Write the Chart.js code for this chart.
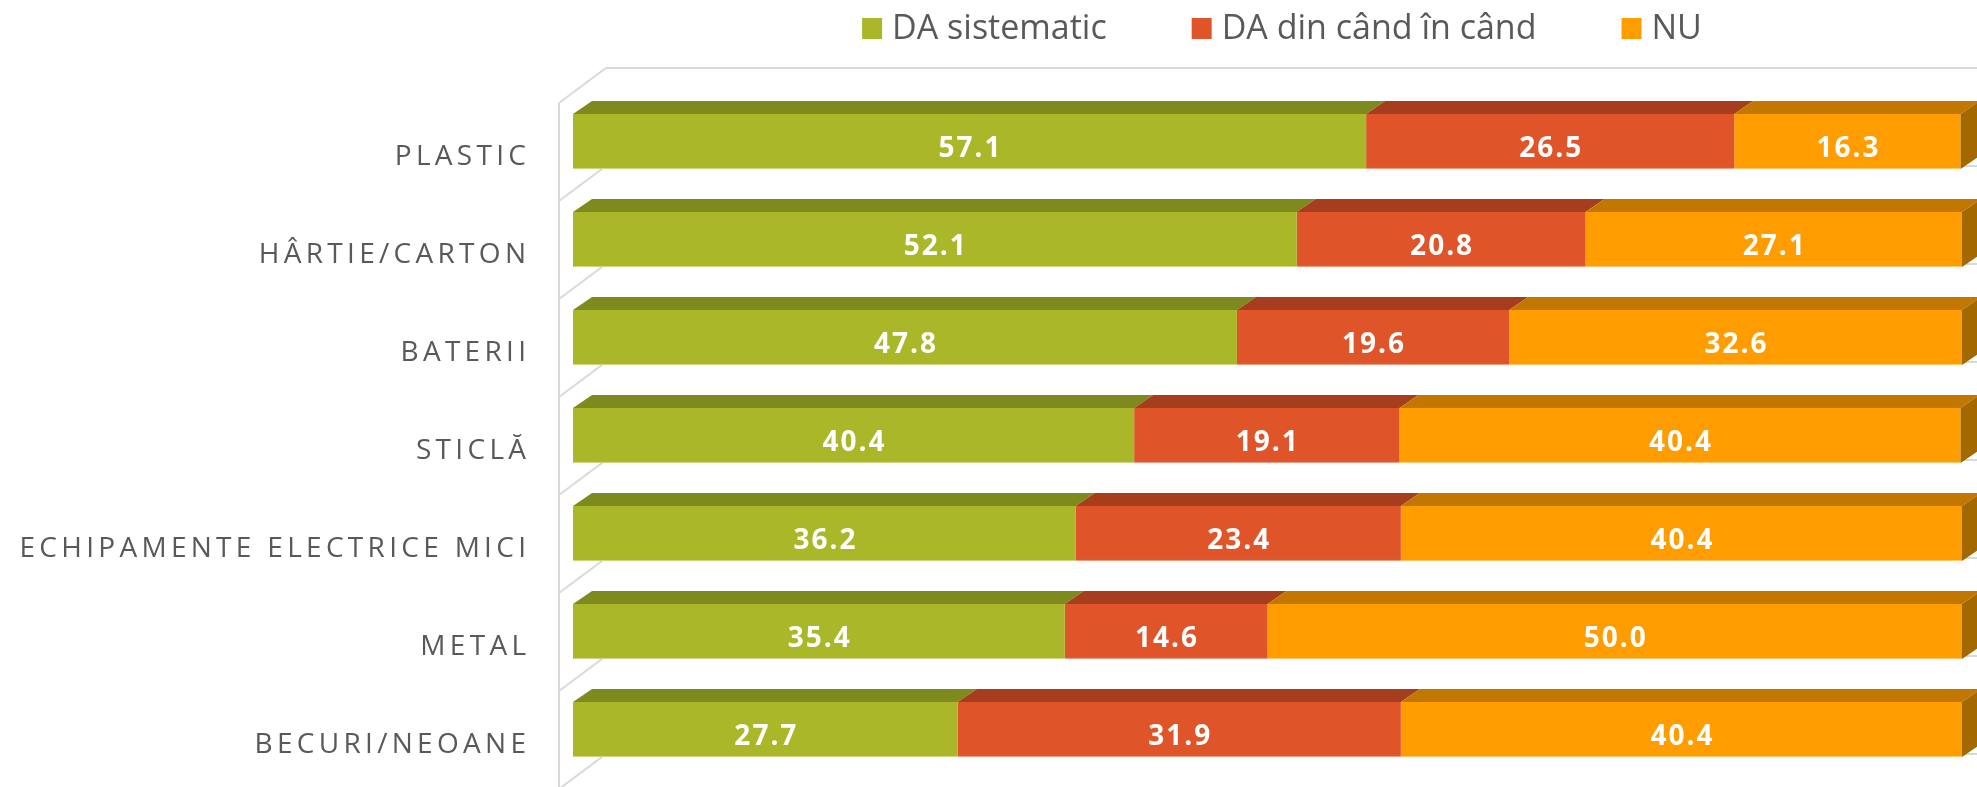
<!DOCTYPE html>
<html>
<head>
<meta charset="utf-8">
<script src="https://cdn.jsdelivr.net/npm/chart.js@4.4.0/dist/chart.umd.min.js"></script>
<style>
    html, body { margin: 0; padding: 0; background: #ffffff; }
    canvas { display: block; }
</style>
</head>
<body>
<canvas id="grafic" width="1977" height="787"></canvas>
<script>
const categorii = ["PLASTIC", "HÂRTIE/CARTON", "BATERII", "STICLĂ", "ECHIPAMENTE ELECTRICE MICI", "METAL", "BECURI/NEOANE"];
const serii = ["DA sistematic", "DA din când în când", "NU"];
const daSistematic = [57.1, 52.1, 47.8, 40.4, 36.2, 35.4, 27.7];
const daDinCand = [26.5, 20.8, 19.6, 19.1, 23.4, 14.6, 31.9];
const nu = [16.3, 27.1, 32.6, 40.4, 40.4, 50.0, 40.4];

// culori: fata, capacul de sus, lateral
const culori = [
    { fata: "#a9b728", sus: "#7f8a1e", lateral: "#6a7318" },
    { fata: "#e05429", sus: "#a63e1e", lateral: "#8c3419" },
    { fata: "#ff9c00", sus: "#c27700", lateral: "#a46800" }
];

const gri = "#595959";

// efectul 3D (capac, lateral, pereti) + etichete
const efect3d = {
    id: "efect3d",
    beforeDatasetsDraw(chart) {
        const ctx = chart.ctx;
        const a = chart.chartArea;
        const n = chart.data.labels.length;
        const pas = (a.bottom - a.top) / n;
        const fx = a.left - 14, fy = 10.5;
        const bx = a.left + 33, by = -24.5;
        ctx.save();
        ctx.strokeStyle = "#d9d9d9";
        ctx.lineWidth = 2;
        ctx.beginPath();
        ctx.moveTo(fx, a.top + fy);
        ctx.lineTo(fx, chart.height);
        for (let k = 0; k <= n; k++) {
            const yb = a.top + k * pas;
            ctx.moveTo(fx, yb + fy);
            ctx.lineTo(bx, yb + by);
            ctx.lineTo(chart.width, yb + by);
        }
        ctx.stroke();
        ctx.restore();
    },
    afterDatasetsDraw(chart) {
        const ctx = chart.ctx;
        const dx = 19, dy = 13;
        const ultim = chart.data.datasets.length - 1;
        ctx.save();
        chart.data.datasets.forEach((ds, i) => {
            chart.getDatasetMeta(i).data.forEach((bar) => {
                const p = bar.getProps(["x", "y", "base", "height"], true);
                const sus = p.y - p.height / 2;
                const jos = p.y + p.height / 2;
                ctx.fillStyle = culori[i].sus;
                ctx.beginPath();
                ctx.moveTo(p.base, sus);
                ctx.lineTo(p.x, sus);
                ctx.lineTo(p.x + dx, sus - dy);
                ctx.lineTo(p.base + dx, sus - dy);
                ctx.closePath();
                ctx.fill();
                if (i === ultim) {
                    ctx.fillStyle = culori[i].lateral;
                    ctx.beginPath();
                    ctx.moveTo(p.x, sus);
                    ctx.lineTo(p.x + dx, sus - dy);
                    ctx.lineTo(p.x + dx, jos - dy);
                    ctx.lineTo(p.x, jos);
                    ctx.closePath();
                    ctx.fill();
                }
                // linie deschisa jos
                ctx.strokeStyle = "rgba(255,255,255,0.45)";
                ctx.lineWidth = 1;
                ctx.beginPath();
                ctx.moveTo(p.base, jos - 0.5);
                ctx.lineTo(p.x, jos - 0.5);
                ctx.stroke();
            });
        });

        // valorile
        ctx.fillStyle = "#ffffff";
        ctx.font = "bold 28px 'Open Sans'";
        ctx.letterSpacing = "2px";
        ctx.textAlign = "center";
        ctx.textBaseline = "alphabetic";
        chart.data.datasets.forEach((ds, i) => {
            chart.getDatasetMeta(i).data.forEach((bar, j) => {
                const p = bar.getProps(["x", "y", "base"], true);
                ctx.fillText(ds.data[j].toFixed(1), (p.base + p.x) / 2 + 1, p.y + 15);
            });
        });

        // categoriile
        const y = chart.scales.y;
        ctx.fillStyle = gri;
        ctx.font = "28px 'Open Sans'";
        ctx.letterSpacing = "4.3px";
        ctx.textAlign = "right";
        chart.data.labels.forEach((c, j) => {
            ctx.fillText(c, chart.chartArea.left - 47 + 4.3, y.getPixelForValue(j) + 23);
        });

        // legenda
        ctx.font = "34px 'Open Sans'";
        ctx.letterSpacing = "0px";
        ctx.textAlign = "left";
        const latimi = chart.data.datasets.map(ds => 30 + ctx.measureText(ds.label).width);
        const total = latimi.reduce((s, v) => s + v, 0) + 85 * (latimi.length - 1);
        let x = 1282 - total / 2;
        chart.data.datasets.forEach((ds, i) => {
            ctx.fillStyle = culori[i].fata;
            ctx.fillRect(x, 18, 20, 21);
            ctx.fillStyle = gri;
            ctx.fillText(ds.label, x + 30, 39);
            x += latimi[i] + 85;
        });
        ctx.restore();
    }
};

new Chart(document.getElementById("grafic"), {
    type: "bar",
    data: {
        labels: categorii,
        datasets: [
            { label: serii[0], data: daSistematic, backgroundColor: culori[0].fata },
            { label: serii[1], data: daDinCand, backgroundColor: culori[1].fata },
            { label: serii[2], data: nu, backgroundColor: culori[2].fata }
        ]
    },
    options: {
        indexAxis: "y",
        responsive: false,
        animation: false,
        layout: {
            padding: { left: 573, right: 15, top: 92.5, bottom: 8.5 }
        },
        datasets: {
            bar: { categoryPercentage: 1, barPercentage: 0.56, borderWidth: 0 }
        },
        plugins: {
            legend: { display: false },
            tooltip: { enabled: false }
        },
        scales: {
            x: { stacked: true, min: 0, max: 100, display: false },
            y: { stacked: true, display: false }
        }
    },
    plugins: [efect3d]
});
</script>
</body>
</html>
